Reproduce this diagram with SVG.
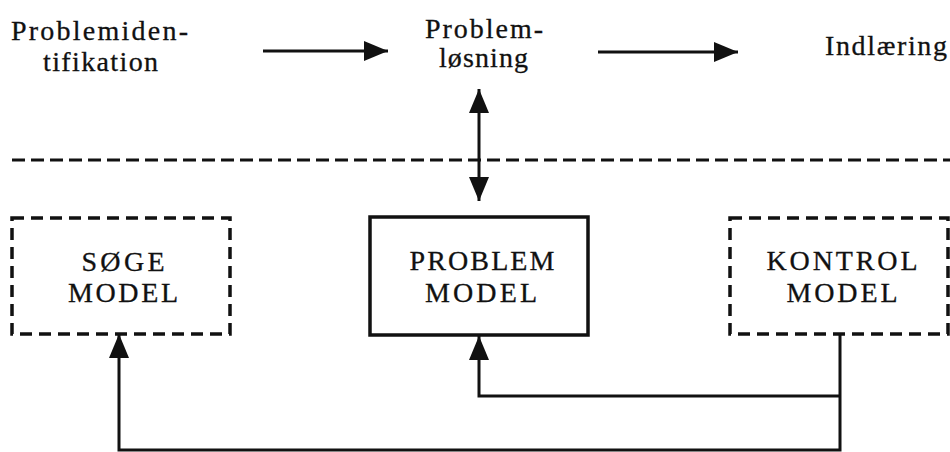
<svg xmlns="http://www.w3.org/2000/svg" width="950" height="452" viewBox="0 0 950 452">
<defs>
<style>
text{font-family:"Liberation Serif","DejaVu Serif",serif;fill:#111;stroke:#111;stroke-width:0.3;}
.lbl{font-size:28px;}
.box{font-size:28px;text-anchor:middle;}
.conn{fill:none;stroke:#111;stroke-width:3;}
.solid{fill:none;stroke:#111;stroke-width:3.5;}
.dash{fill:none;stroke:#111;stroke-width:3.5;stroke-dasharray:12 7;}
</style>
<marker id="ah" markerUnits="userSpaceOnUse" markerWidth="25" markerHeight="20" refX="24" refY="10" orient="auto-start-reverse" viewBox="0 0 25 20">
<path d="M0,0 L24,10 L0,20 z" fill="#111"/>
</marker>
</defs>
<rect width="950" height="452" fill="#fff"/>
<g id="label-identifikation">
<text class="lbl" x="11" y="40" textLength="177" lengthAdjust="spacing">Problemiden-</text>
<text class="lbl" x="43" y="71" textLength="115" lengthAdjust="spacing">tifikation</text>
</g>
<g id="label-loesning">
<text class="lbl" x="425" y="38" textLength="118" lengthAdjust="spacing">Problem-</text>
<text class="lbl" x="439" y="67" textLength="89" lengthAdjust="spacing">løsning</text>
</g>
<g id="label-indlaering">
<text class="lbl" x="825" y="55" textLength="122" lengthAdjust="spacing">Indlæring</text>
</g>
<g id="separator">
<line x1="12" y1="160" x2="950" y2="160" stroke="#111" stroke-width="3" stroke-dasharray="13 6"/>
</g>
<g id="soege-model">
<rect class="dash" x="12" y="218" width="218" height="116"/>
<text class="box" x="123" y="271" textLength="83" lengthAdjust="spacing">SØGE</text>
<text class="box" x="123" y="302" textLength="110" lengthAdjust="spacing">MODEL</text>
</g>
<g id="problem-model">
<rect class="solid" x="370" y="217" width="218" height="118"/>
<text class="box" x="482" y="270" textLength="145" lengthAdjust="spacing">PROBLEM</text>
<text class="box" x="481" y="302" textLength="112" lengthAdjust="spacing">MODEL</text>
</g>
<g id="kontrol-model">
<rect class="dash" x="730" y="218" width="218" height="116"/>
<text class="box" x="842" y="270" textLength="151" lengthAdjust="spacing">KONTROL</text>
<text class="box" x="842" y="302" textLength="111" lengthAdjust="spacing">MODEL</text>
</g>
<g id="connectors">
<line class="conn" x1="263" y1="51" x2="388" y2="51" marker-end="url(#ah)"/>
<line class="conn" x1="598" y1="52" x2="738" y2="52" marker-end="url(#ah)"/>
<line class="conn" x1="479" y1="89" x2="479" y2="201" marker-start="url(#ah)" marker-end="url(#ah)"/>
<path class="conn" d="M840,335 V450 H119 V334" marker-end="url(#ah)"/>
<path class="conn" d="M840,396 H479 V336" marker-end="url(#ah)"/>
</g>
</svg>
